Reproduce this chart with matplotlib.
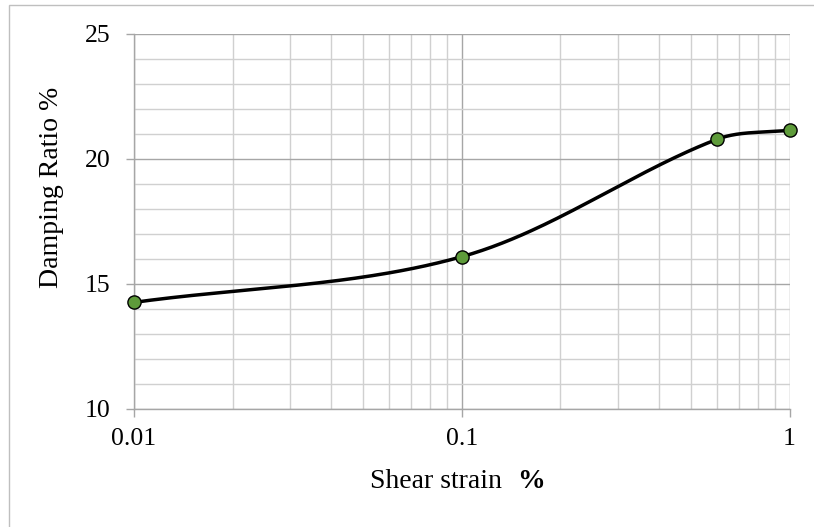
import numpy as np
import matplotlib
matplotlib.use('Agg')
import matplotlib.pyplot as plt
from matplotlib.ticker import LogLocator, MultipleLocator, FixedLocator, FixedFormatter
from matplotlib.patches import Rectangle

plt.rcParams['font.family'] = ['Liberation Serif', 'DejaVu Serif']

# data
strain = [0.01, 0.1, 0.6, 1.0]
damping = [14.25, 16.08, 20.78, 21.15]
x_ticks = [0.01, 0.1, 1]
x_labels = ['0.01', '0.1', '1']
y_ticks = [10, 15, 20, 25]

W, H = 814, 527
L, R, B, T = 134, 789.5, 408.5, 34


def smooth_curve(xs, ys, n=80):
    # Excel-like smoothed line: Bezier pieces with tangent handles, done in pixel space
    sx = (R - L) / 2.0   # pixels per decade
    sy = (B - T) / 15.0  # pixels per unit of y
    pts = np.column_stack([np.log10(xs) * sx, np.array(ys) * sy])
    m = len(pts)
    tang = []
    for i in range(m):
        if i == 0:
            t = pts[1] - pts[0]
        elif i == m - 1:
            t = pts[-1] - pts[-2]
        else:
            t = pts[i + 1] - pts[i - 1]
        tang.append(t / np.linalg.norm(t))
    out = []
    for i in range(m - 1):
        p1, p2 = pts[i], pts[i + 1]
        d = np.linalg.norm(p2 - p1) / 3.0
        c1 = p1 + tang[i] * d
        c2 = p2 - tang[i + 1] * d
        t = np.linspace(0, 1, n)[:, None]
        seg = ((1 - t) ** 3) * p1 + 3 * ((1 - t) ** 2) * t * c1 + 3 * (1 - t) * t ** 2 * c2 + t ** 3 * p2
        out.append(seg if i == 0 else seg[1:])
    out = np.vstack(out)
    return 10 ** (out[:, 0] / sx), out[:, 1] / sy


fig = plt.figure(figsize=(W / 100, H / 100), dpi=100)
ax = fig.add_axes([L / W, 1 - B / H, (R - L) / W, (B - T) / H])

# outer chart border (only left/top visible in the reference)
fig.patches.append(Rectangle((9 / W, -0.05), 1.2, 1 - 5 / H + 0.05, transform=fig.transFigure,
                             fill=False, edgecolor='#BFBFBF', lw=1.0, zorder=0))

ax.set_xscale('log')
ax.set_xlim(0.01, 1)
ax.set_ylim(10, 25)

ax.xaxis.set_major_locator(FixedLocator(x_ticks))
ax.xaxis.set_major_formatter(FixedFormatter(x_labels))
ax.xaxis.set_minor_locator(LogLocator(base=10, subs=np.arange(2, 10)))
ax.xaxis.set_minor_formatter(plt.NullFormatter())
ax.yaxis.set_major_locator(FixedLocator(y_ticks))
ax.yaxis.set_minor_locator(MultipleLocator(1))

ax.grid(which='major', color='#A6A6A6', lw=1.0)
ax.grid(which='minor', color='#D0D0D0', lw=1.0)
ax.set_axisbelow(True)

for s in ['top', 'right']:
    ax.spines[s].set_visible(False)
for s in ['left', 'bottom']:
    ax.spines[s].set_color('#A6A6A6')
    ax.spines[s].set_linewidth(1.0)

ax.tick_params(which='major', direction='out', length=6, width=1, color='#A6A6A6', labelsize=18.5)
ax.tick_params(which='minor', length=0)
ax.tick_params(axis='y', pad=11)
ax.tick_params(axis='x', pad=8)

cx, cy = smooth_curve(strain, damping)
ax.plot(cx, cy, color='black', lw=2.5, zorder=3, clip_on=False)
ax.plot(strain, damping, 'o', ms=9.5, markerfacecolor='#5E9B3A', markeredgecolor='black',
        markeredgewidth=1.0, zorder=4, clip_on=False)

# axis titles, placed like the reference
fig.text(51 / W, 1 - 187 / H, 'Damping Ratio %', fontsize=20, rotation=90, ha='center', va='center')
fig.text(502 / W, 1 - 488 / H, 'Shear strain', fontsize=20, ha='right', va='baseline')
fig.text(517 / W, 1 - 488 / H, '%', fontsize=20, ha='left', va='baseline', fontweight='bold')

fig.savefig('out.png', dpi=100)
